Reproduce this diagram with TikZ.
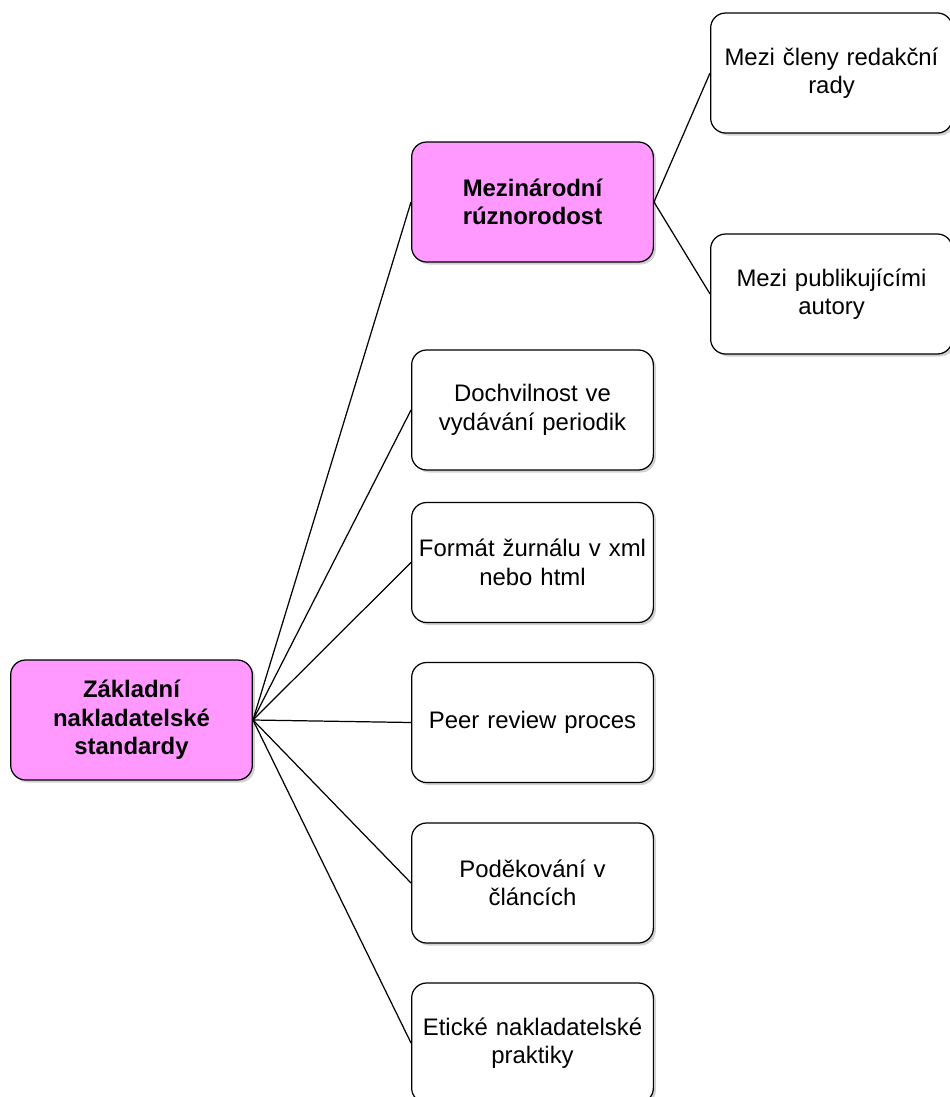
\documentclass[tikz,border=0pt]{standalone}
\usepackage{fontspec}
\setmainfont{Liberation Sans}
\usetikzlibrary{shadows}
\definecolor{pinkfill}{RGB}{255,153,255}
\begin{document}
\begin{tikzpicture}[
  box/.style = {draw, line width = .7pt, rounded corners = .3cm, fill = white,
    minimum width = 4.8cm, minimum height = 2.4cm, text width = 4.6cm, align = center,
    font = \fontsize{13.6}{16.2}\selectfont,
    drop shadow = {shadow xshift = .05cm, shadow yshift = -.05cm, fill = gray!60, opacity = .6}},
  hub/.style = {box, fill = pinkfill, font = \fontsize{13.6}{16.2}\selectfont\bfseries},
  link/.style = {line width = .7pt}
]
\useasboundingbox (0, 0) rectangle (18.98cm, -21.94cm);

% root and second level
\node [hub] (zaklad) at (2.63cm, -14.4cm) {Základní\\ nakladatelské\\ standardy};
\node [hub] (rozmanitost) at (10.65cm, -4.04cm) {Mezinárodní\\ rúznorodost};
\node [box] (vcasnost) at (10.65cm, -8.2cm) {Dochvilnost ve\\ vydávání periodik};
\node [box] (format) at (10.65cm, -11.25cm) {Formát žurnálu v xml\\ nebo html};
\node [box] (recenze) at (10.65cm, -14.45cm) {Peer review proces};
\node [box] (podekovani) at (10.65cm, -17.66cm) {Poděkování v\\ článcích};
\node [box] (etika) at (10.65cm, -20.86cm) {Etické nakladatelské\\ praktiky};

% third level
\node [box] (redakce) at (16.63cm, -1.46cm) {Mezi členy redakční\\ rady};
\node [box] (autori) at (16.63cm, -5.88cm) {Mezi publikujícími\\ autory};

\foreach \child in {rozmanitost, vcasnost, format, recenze, podekovani, etika}
  \draw [link] (zaklad.east) -- (\child.west);
\draw [link] (rozmanitost.east) -- (redakce.west);
\draw [link] (rozmanitost.east) -- (autori.west);

\end{tikzpicture}
\end{document}
